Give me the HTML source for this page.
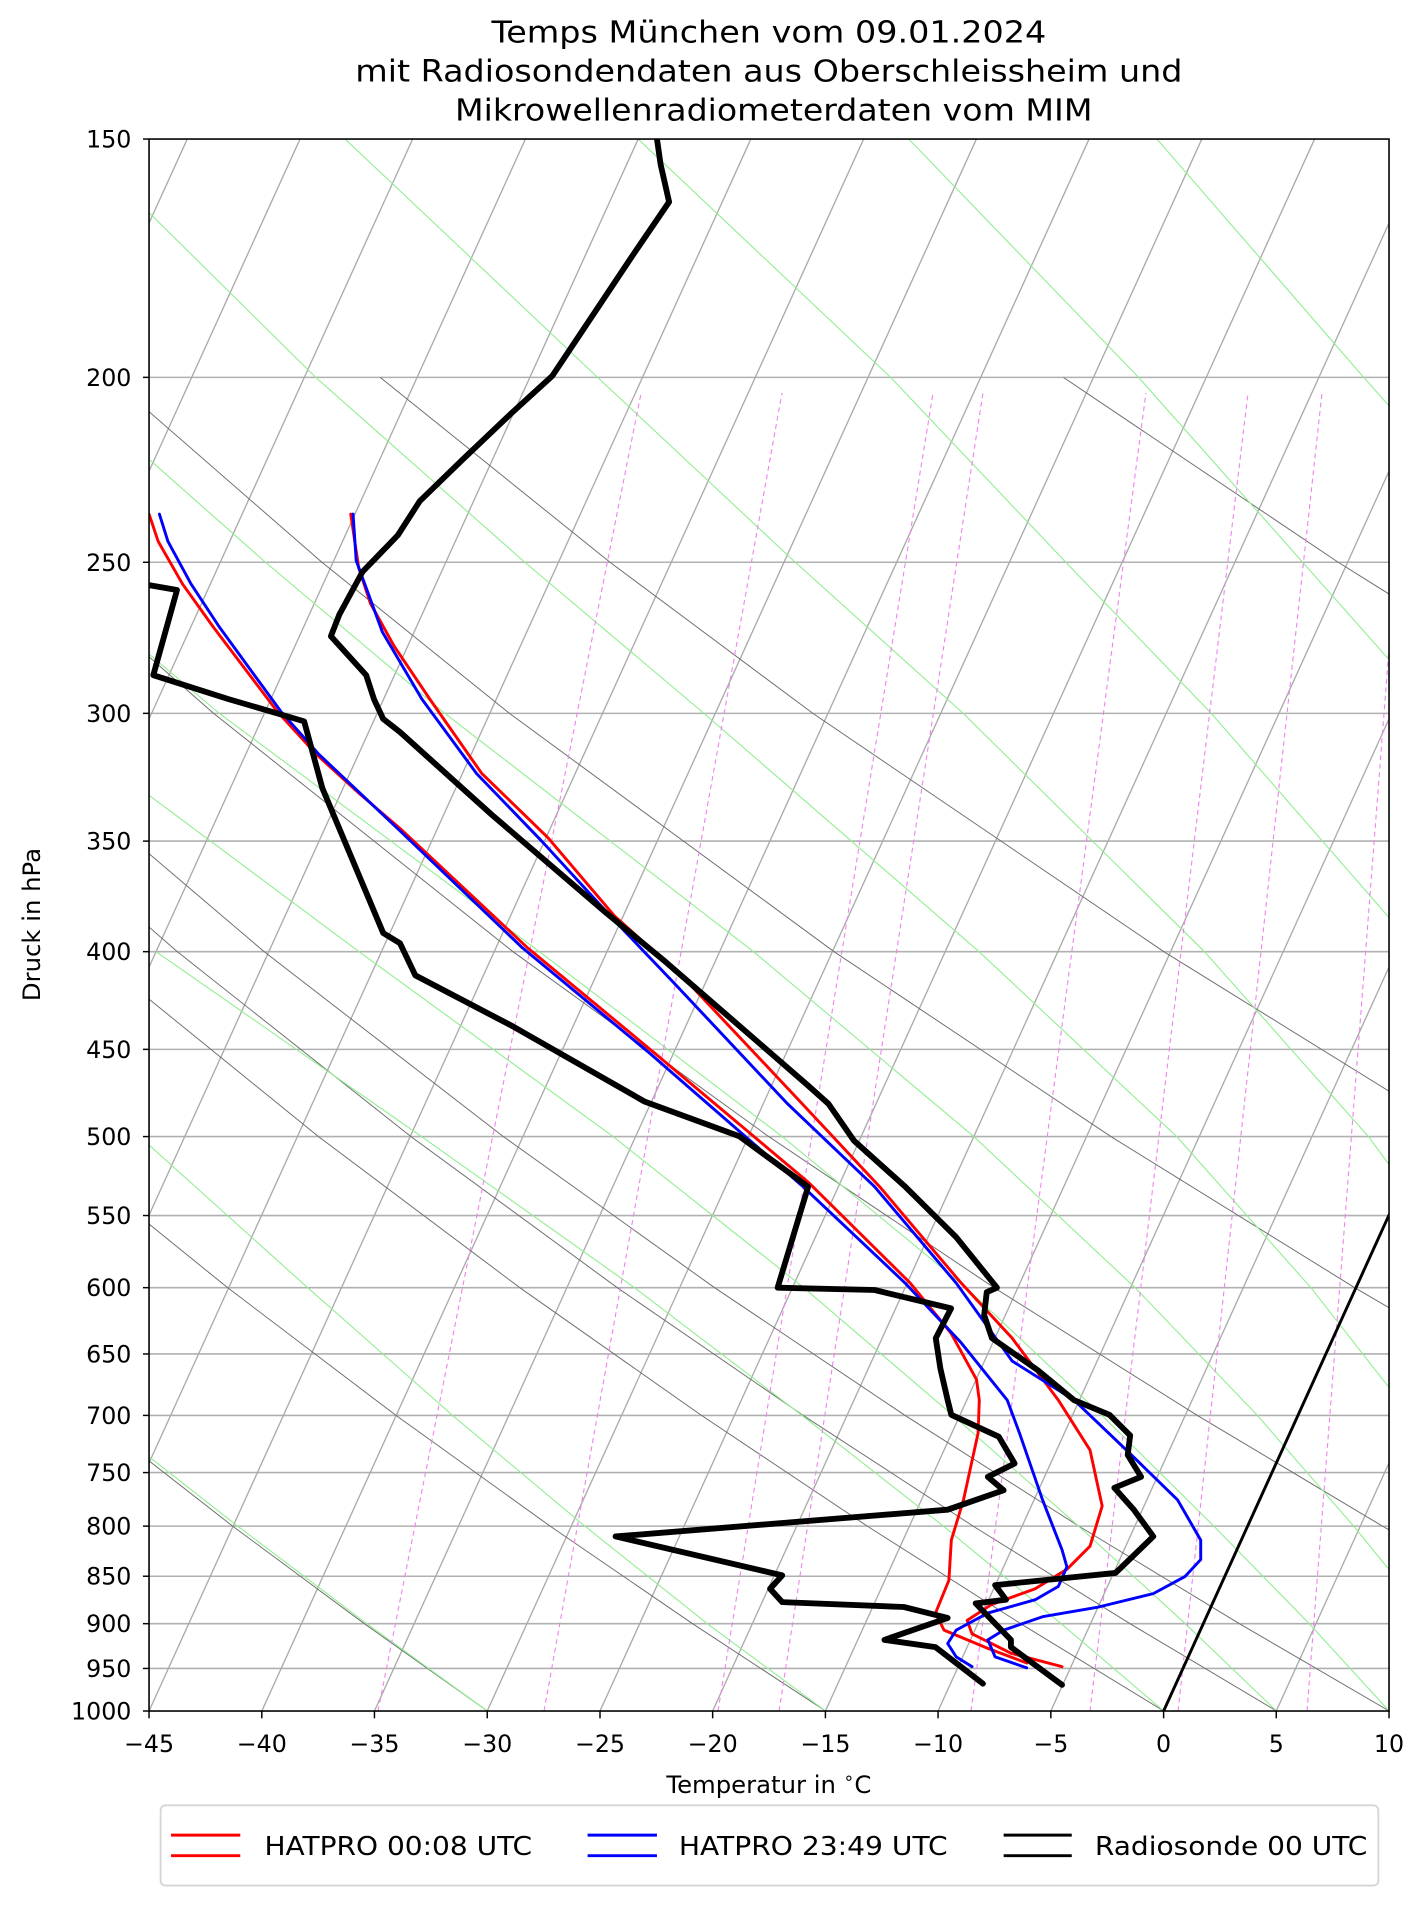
<!DOCTYPE html>
<html><head><meta charset="utf-8"><style>
html,body{margin:0;padding:0;background:#fff;}
svg{display:block;}
text{font-family:"DejaVu Sans","Liberation Sans",sans-serif;fill:#000;}
</style></head><body>
<svg xmlns="http://www.w3.org/2000/svg" width="1427" height="1907" viewBox="0 0 1173 1567.6">
<defs><clipPath id="c"><rect x="122.5" y="114.3" width="1019.3" height="1292.2"/></clipPath></defs>
<rect x="0" y="0" width="1173" height="1567.6" fill="#fff"/>
<g clip-path="url(#c)" fill="none">
<g stroke="#b0b0b0" stroke-width="1.3">
<line x1="122.5" x2="1141.8" y1="310.2" y2="310.2"/><line x1="122.5" x2="1141.8" y1="462.2" y2="462.2"/>
<line x1="122.5" x2="1141.8" y1="586.4" y2="586.4"/><line x1="122.5" x2="1141.8" y1="691.4" y2="691.4"/>
<line x1="122.5" x2="1141.8" y1="782.3" y2="782.3"/><line x1="122.5" x2="1141.8" y1="862.6" y2="862.6"/>
<line x1="122.5" x2="1141.8" y1="934.3" y2="934.3"/><line x1="122.5" x2="1141.8" y1="999.2" y2="999.2"/>
<line x1="122.5" x2="1141.8" y1="1058.5" y2="1058.5"/><line x1="122.5" x2="1141.8" y1="1113" y2="1113"/>
<line x1="122.5" x2="1141.8" y1="1163.5" y2="1163.5"/><line x1="122.5" x2="1141.8" y1="1210.5" y2="1210.5"/>
<line x1="122.5" x2="1141.8" y1="1254.5" y2="1254.5"/><line x1="122.5" x2="1141.8" y1="1295.7" y2="1295.7"/>
<line x1="122.5" x2="1141.8" y1="1334.7" y2="1334.7"/><line x1="122.5" x2="1141.8" y1="1371.5" y2="1371.5"/>
</g>
<g stroke="#aaaaaa" stroke-width="1.1">
<line x1="-433.5" y1="1406.5" x2="153.9" y2="114.3"/><line x1="-340.8" y1="1406.5" x2="246.6" y2="114.3"/>
<line x1="-248.2" y1="1406.5" x2="339.2" y2="114.3"/><line x1="-155.5" y1="1406.5" x2="431.9" y2="114.3"/>
<line x1="-62.8" y1="1406.5" x2="524.6" y2="114.3"/><line x1="29.8" y1="1406.5" x2="617.2" y2="114.3"/>
<line x1="122.5" y1="1406.5" x2="709.9" y2="114.3"/><line x1="215.2" y1="1406.5" x2="802.6" y2="114.3"/>
<line x1="307.8" y1="1406.5" x2="895.2" y2="114.3"/><line x1="400.5" y1="1406.5" x2="987.9" y2="114.3"/>
<line x1="493.2" y1="1406.5" x2="1080.6" y2="114.3"/><line x1="585.8" y1="1406.5" x2="1173.2" y2="114.3"/>
<line x1="678.5" y1="1406.5" x2="1265.9" y2="114.3"/><line x1="771.1" y1="1406.5" x2="1358.5" y2="114.3"/>
<line x1="863.8" y1="1406.5" x2="1451.2" y2="114.3"/><line x1="956.5" y1="1406.5" x2="1543.9" y2="114.3"/>
<line x1="1049.1" y1="1406.5" x2="1636.5" y2="114.3"/><line x1="1141.8" y1="1406.5" x2="1729.2" y2="114.3"/>
</g>
<g stroke="#6e6e6e" stroke-width="0.8">
<polyline points="400.5,1406.4 299.5,1334.7 191.2,1254.5 74.6,1163.5"/>
<polyline points="678.5,1406.4 569.3,1334.7 452.2,1254.5 325.5,1163.5 187.1,1058.5 33.6,934.3"/>
<polyline points="956.5,1406.4 839,1334.7 712.9,1254.5 576.6,1163.5 427.3,1058.5 261.8,934.3 74.4,782.3"/>
<polyline points="1049.2,1406.4 928.9,1334.7 799.9,1254.5 660.2,1163.5 507.4,1058.5 337.8,934.3 145.7,782.3 -78.7,586.4"/>
<polyline points="1141.8,1406.4 1018.8,1334.7 886.8,1254.5 744,1163.5 587.4,1058.5 413.8,934.3 217.1,782.3 -12.9,586.4"/>
<polyline points="1407.8,1406.4 1276.9,1334.7 1136.4,1254.5 984.2,1163.5 817.2,1058.5 631.9,934.3 421.7,782.3 175.6,586.4 33.8,462.2"/>
<polyline points="1609.6,1334.7 1458,1254.5 1293.7,1163.5 1113.6,1058.5 913.2,934.3 685.6,782.3 418.8,586.4 264.6,462.2 90.1,310.2"/>
<polyline points="1611.7,1163.5 1417.9,1058.5 1202,934.3 956.7,782.3 668.2,586.4 501.4,462.2 312.5,310.2"/>
<polyline points="1641.4,782.3 1478,691.4 1298.9,586.4 1100,462.2 874.1,310.2"/>
</g>
<g stroke="#90ee90" stroke-width="0.9">
<polyline points="400.5,1406.4 301.5,1334.7 195.3,1254.5 79.2,1163.5"/>
<polyline points="678.5,1406.4 581.4,1334.7 480.7,1254.5 372,1163.5 252.9,1058.5 114.8,934.3"/>
<polyline points="956.5,1406.4 872.3,1334.7 775.4,1254.5 659.3,1163.5 521.6,1058.5 346.5,934.3 128.3,782.3"/>
<polyline points="1049.2,1406.4 974.3,1334.7 886.6,1254.5 783.4,1163.5 660.7,1058.5 504,934.3 295.1,782.3 32,586.4"/>
<polyline points="1141.8,1406.4 1076.2,1334.7 997.8,1254.5 905.8,1163.5 794.1,1058.5 643,934.3 443.4,782.3 180.3,586.4 32.9,462.2"/>
<polyline points="1234.5,1406.4 1178.1,1334.7 1112.7,1254.5 1033.6,1163.5 933.1,1058.5 800.5,934.3 619.4,782.3 365.6,586.4 218.2,462.2 46.4,310.2"/>
<polyline points="1327,1406.4 1278.2,1334.7 1223.9,1254.5 1159.7,1163.5 1077.6,1058.5 967.3,934.3 804.8,782.3 578.7,586.4 431.4,462.2 259.5,310.2 61.3,114.3"/>
<polyline points="1419.8,1406.4 1378.3,1334.7 1331.4,1254.5 1280.1,1163.5 1216.6,1058.5 1124.9,934.3 990.1,782.3 791.8,586.4 653.7,462.2 491.2,310.2 283.7,114.3"/>
<polyline points="1395,1163.5 1346.4,1058.5 1273.1,934.3 1166.2,782.3 995.7,586.4 876.1,462.2 732.1,310.2 524.6,114.3"/>
<polyline points="1412,934.3 1314.4,782.3 1181,586.4 1070.8,462.2 935.9,310.2 747,114.3"/>
<polyline points="1256,462.2 1121,310.2 951,114.3"/>
</g>
<g stroke="#ee82ee" stroke-width="0.9" stroke-dasharray="4,3">
<line x1="310.7" y1="1406.5" x2="527" y2="323"/><line x1="447.2" y1="1406.5" x2="642.8" y2="323"/>
<line x1="590.2" y1="1406.5" x2="767" y2="323"/><line x1="640.4" y1="1406.5" x2="808" y2="323"/>
<line x1="798.2" y1="1406.5" x2="942" y2="323"/><line x1="896" y1="1406.5" x2="1025.9" y2="323"/>
<line x1="968.4" y1="1406.5" x2="1086.7" y2="323"/><line x1="1074.4" y1="1406.5" x2="1158" y2="323"/>
</g>
</g>
<g clip-path="url(#c)" fill="none" stroke-linejoin="round" stroke-linecap="round">
<polyline stroke="#000" stroke-width="2.4" points="956.5,1406.5 1141.8,998.7"/>
<polyline stroke="#ff0000" stroke-width="2.4" points="288.3,422.6 294.8,466.6 304.5,496 324,531.2 353.3,574.7 396,635.8 450.4,688.6 505,752.8 563.7,805.6 656,903.7 723,975.4 790.1,1054.7 832,1100 870,1151 896,1192 906,1238 896,1271 877,1290 851,1306 815,1319 795,1332 799,1343 831,1359 873,1370"/>
<polyline stroke="#ff0000" stroke-width="2.4" points="122.5,422.6 130,445 150,480 175,515 200,548 228,585 260,620 295,652 328.8,681 433.7,779.2 538.5,866 664.3,971.7 748.2,1054.7 781.8,1096 802.7,1134 805,1151 804,1178 792,1233 782,1266 780,1299 769,1326 776,1340 812,1355 844,1367"/>
<polyline stroke="#0000ff" stroke-width="2.4" points="290.2,422.6 292.8,460.8 314.3,519.5 346.8,574.7 391.7,635.8 446.2,692.4 505,756.6 555.3,809.4 647.5,907.5 718.8,975.4 786,1054.7 832,1118.8 883,1151 929,1195 968,1233 987,1266 987,1282 974,1296 948,1310 903,1321 857,1329 825,1340 812,1348 818,1362 844,1371"/>
<polyline stroke="#0000ff" stroke-width="2.4" points="131,422.6 138,445 157,480 180,515 204,548 231,585 262,620 296,652 328.8,683 429.5,779.2 534.3,866 660.1,975.5 744,1054.7 790.1,1103.8 828,1151 838,1178 857,1233 873,1274 877,1288 870,1304 851,1315 812,1326 786,1340 779,1351 786,1362 799,1370"/>
<polyline stroke="#000" stroke-width="4.8" points="540,114 543,135 550,166 520,210 490,255 454,309 420,340 380,378 345,412 327,440 298,470 279,505 272,523 301,555 307.5,575 315,591 328.8,601.8 404.3,669.8 496.6,749 546.9,790.5 664.3,892.4 681.1,907.5 702,937.7 744,975.4 786,1017 819.5,1058.5 811.1,1062.2 809,1081 815.4,1100 853.1,1126.4 883,1151 912,1163 929,1180 927,1196 938,1214 916,1223 932,1241 948,1263 917,1293 818,1303 827,1315 802,1318 831,1348 831,1354 873,1385"/>
<polyline stroke="#000" stroke-width="4.8" points="122.5,481 145.5,485 126,555 187.5,574.6 240,590 250,593 265,648 315,767 328.8,775.4 341.4,801.8 421,843.4 530,905.6 607.7,934 664.3,975.5 639.2,1058.5 718.9,1060.4 781.8,1075.5 769.2,1100 773,1125 779,1151 782,1163 821,1181 834,1203 812,1214 825,1225 779,1241 506,1263 643,1295 633,1306 643,1317 743,1321 779,1330 727,1348 769,1354 808,1384"/>
</g>
<rect x="122.5" y="114.3" width="1019.3" height="1292.2" fill="none" stroke="#000" stroke-width="1.3"/>
<g stroke="#000" stroke-width="1.2">
<line x1="117.5" x2="122.5" y1="114.3" y2="114.3"/><line x1="117.5" x2="122.5" y1="310.2" y2="310.2"/><line x1="117.5" x2="122.5" y1="462.2" y2="462.2"/><line x1="117.5" x2="122.5" y1="586.4" y2="586.4"/><line x1="117.5" x2="122.5" y1="691.4" y2="691.4"/><line x1="117.5" x2="122.5" y1="782.3" y2="782.3"/><line x1="117.5" x2="122.5" y1="862.6" y2="862.6"/><line x1="117.5" x2="122.5" y1="934.3" y2="934.3"/><line x1="117.5" x2="122.5" y1="999.2" y2="999.2"/><line x1="117.5" x2="122.5" y1="1058.5" y2="1058.5"/><line x1="117.5" x2="122.5" y1="1113" y2="1113"/><line x1="117.5" x2="122.5" y1="1163.5" y2="1163.5"/><line x1="117.5" x2="122.5" y1="1210.5" y2="1210.5"/><line x1="117.5" x2="122.5" y1="1254.5" y2="1254.5"/><line x1="117.5" x2="122.5" y1="1295.7" y2="1295.7"/><line x1="117.5" x2="122.5" y1="1334.7" y2="1334.7"/><line x1="117.5" x2="122.5" y1="1371.5" y2="1371.5"/><line x1="117.5" x2="122.5" y1="1406.5" y2="1406.5"/>
<line x1="122.5" x2="122.5" y1="1406.5" y2="1412.5"/><line x1="215.2" x2="215.2" y1="1406.5" y2="1412.5"/><line x1="307.8" x2="307.8" y1="1406.5" y2="1412.5"/><line x1="400.5" x2="400.5" y1="1406.5" y2="1412.5"/><line x1="493.2" x2="493.2" y1="1406.5" y2="1412.5"/><line x1="585.8" x2="585.8" y1="1406.5" y2="1412.5"/><line x1="678.5" x2="678.5" y1="1406.5" y2="1412.5"/><line x1="771.1" x2="771.1" y1="1406.5" y2="1412.5"/><line x1="863.8" x2="863.8" y1="1406.5" y2="1412.5"/><line x1="956.5" x2="956.5" y1="1406.5" y2="1412.5"/><line x1="1049.1" x2="1049.1" y1="1406.5" y2="1412.5"/><line x1="1141.8" x2="1141.8" y1="1406.5" y2="1412.5"/>
</g>
<g font-size="19.5" text-anchor="end">
<text x="108" y="121.3">150</text><text x="108" y="317.2">200</text><text x="108" y="469.2">250</text><text x="108" y="593.4">300</text><text x="108" y="698.4">350</text><text x="108" y="789.3">400</text><text x="108" y="869.6">450</text><text x="108" y="941.3">500</text><text x="108" y="1006.2">550</text><text x="108" y="1065.5">600</text><text x="108" y="1120">650</text><text x="108" y="1170.5">700</text><text x="108" y="1217.5">750</text><text x="108" y="1261.5">800</text><text x="108" y="1302.7">850</text><text x="108" y="1341.7">900</text><text x="108" y="1378.5">950</text><text x="108" y="1413.5">1000</text>
</g>
<g font-size="19.5" text-anchor="middle">
<text x="122.5" y="1440">−45</text><text x="215.2" y="1440">−40</text><text x="307.8" y="1440">−35</text><text x="400.5" y="1440">−30</text><text x="493.2" y="1440">−25</text><text x="585.8" y="1440">−20</text><text x="678.5" y="1440">−15</text><text x="771.1" y="1440">−10</text><text x="863.8" y="1440">−5</text><text x="956.5" y="1440">0</text><text x="1049.1" y="1440">5</text><text x="1141.8" y="1440">10</text>
</g>
<text x="632" y="35" font-size="25" text-anchor="middle" textLength="456" lengthAdjust="spacingAndGlyphs">Temps München vom 09.01.2024</text>
<text x="632" y="67" font-size="25" text-anchor="middle" textLength="680" lengthAdjust="spacingAndGlyphs">mit Radiosondendaten aus Oberschleissheim und</text>
<text x="636" y="99" font-size="25" text-anchor="middle" textLength="524" lengthAdjust="spacingAndGlyphs">Mikrowellenradiometerdaten vom MIM</text>
<text x="632" y="1474" font-size="20" text-anchor="middle">Temperatur in <tspan dy="-8" font-size="14">∘</tspan><tspan dy="8">C</tspan></text>
<text transform="translate(33,760) rotate(-90)" font-size="20" text-anchor="middle">Druck in hPa</text>
<rect x="132" y="1484" width="1001" height="66" rx="4" fill="#fff" stroke="#d5d5d5" stroke-width="1.5"/>
<line x1="140.6" y1="1508.5" x2="197.5" y2="1508.5" stroke="#f00" stroke-width="2.4"/>
<line x1="140.6" y1="1525.4" x2="197.5" y2="1525.4" stroke="#f00" stroke-width="2.4"/>
<text x="217.4" y="1525" font-size="21" textLength="220" lengthAdjust="spacingAndGlyphs">HATPRO 00:08 UTC</text>
<line x1="483" y1="1508.5" x2="540" y2="1508.5" stroke="#00f" stroke-width="2.4"/>
<line x1="483" y1="1525.4" x2="540" y2="1525.4" stroke="#00f" stroke-width="2.4"/>
<text x="558" y="1525" font-size="21" textLength="221" lengthAdjust="spacingAndGlyphs">HATPRO 23:49 UTC</text>
<line x1="825" y1="1508.5" x2="881" y2="1508.5" stroke="#000" stroke-width="2.4"/>
<line x1="825" y1="1525.4" x2="881" y2="1525.4" stroke="#000" stroke-width="2.4"/>
<text x="900" y="1525" font-size="21" textLength="224" lengthAdjust="spacingAndGlyphs">Radiosonde 00 UTC</text>
</svg>
</body></html>
